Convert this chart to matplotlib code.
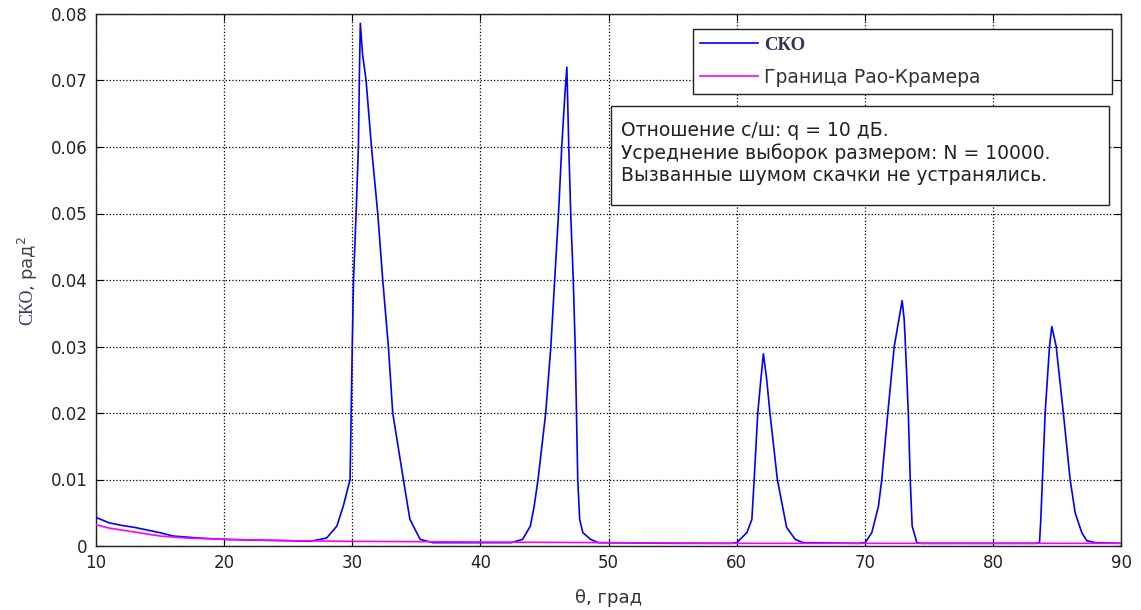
import numpy as np
import matplotlib
matplotlib.use("Agg")
import matplotlib.pyplot as plt
from matplotlib.patches import Rectangle

# СКО (blue)
theta_sko = [10, 11, 12, 13, 14, 15, 16, 18, 20, 22, 25, 26.7, 28.0, 28.8, 29.3, 29.83,
             30.0, 30.1, 30.3, 30.48, 30.55, 30.63, 30.8, 31.08, 31.5, 31.99, 32.38, 32.82,
             33.16, 33.99, 34.5, 35.3, 36.3,
             40, 42.4, 43.3, 43.9, 44.2, 44.5, 44.8, 45.1, 45.5, 45.8, 46.1, 46.35, 46.6,
             46.75, 46.9, 47.05, 47.25, 47.4, 47.5, 47.6, 47.75, 48.0, 48.6, 49.2,
             55, 59.6, 60.0, 60.8, 61.19, 61.37, 61.65, 61.89, 62.09, 62.35, 62.6, 63.18,
             63.9, 64.57, 65.2,
             69.5, 70.03, 70.55, 71.07, 71.33, 71.8, 72.3, 72.92, 73.08, 73.18, 73.4, 73.55,
             73.7, 74.07, 74.45,
             80, 83.3, 83.64, 83.74, 83.87, 84.08, 84.42, 84.6, 84.94, 85.5, 86.03, 86.42,
             86.94, 87.33, 88.0, 90]
sko = [0.0043, 0.0035, 0.0031, 0.0028, 0.0024, 0.0020, 0.0015, 0.0012, 0.0010, 0.0009, 0.0008,
       0.0007, 0.0012, 0.0030, 0.0060, 0.0100,
       0.0300, 0.0400, 0.0500, 0.0600, 0.0700, 0.0786, 0.0740, 0.0700, 0.0600, 0.0500, 0.0400,
       0.0300, 0.0200, 0.0100, 0.0040, 0.0010, 0.0005,
       0.0005, 0.0005, 0.0010, 0.0030, 0.0060, 0.0100, 0.0150, 0.0200, 0.0300, 0.0400, 0.0500,
       0.0600, 0.0680, 0.0720, 0.0600, 0.0500, 0.0400, 0.0300, 0.0200, 0.0100, 0.0040, 0.0020,
       0.0010, 0.0005,
       0.0004, 0.0004, 0.0005, 0.0020, 0.0040, 0.0100, 0.0200, 0.0250, 0.0289, 0.0250, 0.0200,
       0.0100, 0.0028, 0.0010, 0.0005,
       0.0004, 0.0005, 0.0020, 0.0060, 0.0100, 0.0200, 0.0300, 0.0369, 0.0340, 0.0300, 0.0200,
       0.0100, 0.0030, 0.0005, 0.0004,
       0.0004, 0.0004, 0.0005, 0.0040, 0.0100, 0.0200, 0.0300, 0.0330, 0.0300, 0.0200, 0.0100,
       0.0050, 0.0020, 0.0008, 0.0005, 0.0004]

# Граница Рао-Крамера (magenta)
theta_crb = [10, 11, 12, 13, 14, 15, 17, 20, 25, 30, 40, 50, 60, 70, 80, 90]
crb = [0.0032, 0.0027, 0.0024, 0.0021, 0.0018, 0.0015, 0.0012, 0.0010, 0.0008, 0.0007,
       0.0006, 0.0005, 0.0004, 0.0004, 0.0004, 0.0004]

x_ticks = [10, 20, 30, 40, 50, 60, 70, 80, 90]
y_ticks = [0, 0.01, 0.02, 0.03, 0.04, 0.05, 0.06, 0.07, 0.08]
y_labels = ["0", "0.01", "0.02", "0.03", "0.04", "0.05", "0.06", "0.07", "0.08"]

info_lines = ["Отношение с/ш: q = 10 дБ.",
              "Усреднение выборок размером: N = 10000.",
              "Вызванные шумом скачки не устранялись."]

fig = plt.figure(figsize=(11.41, 6.10), dpi=100)
ax = fig.add_axes([96 / 1141, 1 - 546 / 610, 1025 / 1141, 532 / 610])

ax.plot(theta_sko, sko, color="#0000ff", lw=1.2, label="СКО", zorder=3)
ax.plot(theta_crb, crb, color="#ff00ff", lw=1.2, label="Граница Рао-Крамера", zorder=3)

ax.set_xlim(10, 90)
ax.set_ylim(0, 0.08)
ax.set_xticks(x_ticks)
ax.set_yticks(y_ticks)
ax.set_yticklabels(y_labels)
ax.grid(True, linestyle=":", color="black", lw=0.9)
ax.tick_params(direction="in", top=True, right=True, length=5, labelsize=12,
               labelcolor="#222222", pad=6)
for s in ax.spines.values():
    s.set_linewidth(1.0)
    s.set_color("#222222")

ax.set_xlabel("θ, град", fontsize=13, color="#333333", labelpad=12)

# y label: "СКО" in serif, rest in sans
fig.text(28 / 1141, 1 - 325 / 610, "СКО", rotation=90, ha="center", va="bottom",
         fontsize=13, family="Liberation Serif", color="#3b3b6b")
fig.text(28 / 1141, 1 - 291 / 610, ", рад$^2$", rotation=90, ha="center", va="bottom",
         fontsize=13, color="#444444")

leg = ax.legend(loc="upper left", bbox_to_anchor=(0.582, 0.851, 0.409, 0.121),
                mode="expand", fancybox=False, framealpha=1, edgecolor="#222222",
                fontsize=13.5, handlelength=3.1, handletextpad=0.3, borderaxespad=0,
                labelspacing=0.75, borderpad=0.4)
leg.get_frame().set_linewidth(1.0)
t0 = leg.get_texts()[0]
t0.set_fontfamily("Liberation Serif")
t0.set_fontweight("bold")
t0.set_color("#333355")
leg.get_texts()[1].set_color("#333333")

ax.add_patch(Rectangle((0.5024, 0.641), 0.4859, 0.186, transform=ax.transAxes,
                       facecolor="white", edgecolor="#222222", lw=1.0, zorder=4))
ax.text(0.512, 0.798, "\n".join(info_lines), transform=ax.transAxes, ha="left", va="top",
        fontsize=13.5, linespacing=1.18, color="#222222", zorder=5)

fig.savefig("out.png", dpi=100)
